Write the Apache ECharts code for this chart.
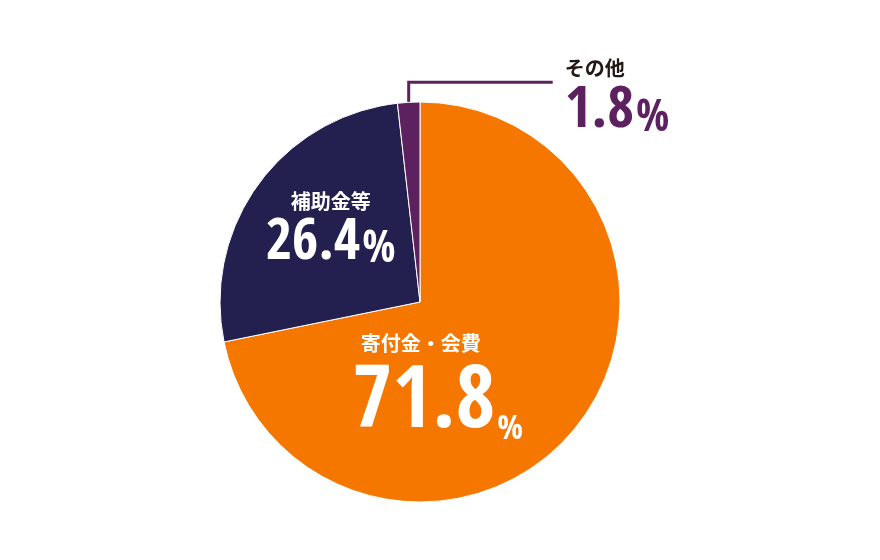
<!DOCTYPE html>
<html>
<head>
<meta charset="utf-8">
<script src="https://cdn.jsdelivr.net/npm/echarts@6/dist/echarts.min.js"></script>
<style>
html, body { margin: 0; padding: 0; background: #fff; }
#chart { width: 880px; height: 560px; }
</style>
</head>
<body>
<div id="chart"></div>
<script>
var categories = ['寄付金・会費', '補助金等', 'その他'];
var shares = [71.8, 26.4, 1.8];
var sliceColors = ['#f57700', '#231f4e', '#5e2160'];

var NUM_FONT = "'Open Sans Condensed', 'Roboto Condensed', sans-serif";
var JP_FONT = "'Noto Sans CJK JP', sans-serif";

function richFor(nameColor, valColor, valSize, pctSize, namePadRight, nameLineHeight) {
    return {
        name: { fontFamily: JP_FONT, fontWeight: 'bold', fontSize: 20, color: nameColor, lineHeight: nameLineHeight, padding: [0, namePadRight, 0, 0] },
        val: { fontFamily: NUM_FONT, fontWeight: 'bold', fontSize: valSize, color: valColor, lineHeight: valSize, verticalAlign: 'bottom' },
        pct: { fontFamily: NUM_FONT, fontWeight: 'bold', fontSize: pctSize, color: valColor, lineHeight: pctSize, verticalAlign: 'bottom', padding: [0, 0, 0, 2] }
    };
}

var labelStyles = [
    { position: 'inside', rich: richFor('#fff', '#fff', 86, 34, 34, 36) },
    { position: 'inside', rich: richFor('#fff', '#fff', 57, 44, 0, 30) },
    { position: 'outside', align: 'left', rich: richFor('#231815', sliceColors[2], 58, 44, 0, 30) }
];

var labelShift = [
    { dx: -62, dy: 19 },
    { dx: -6, dy: -12 }
];

var data = categories.map(function (name, i) {
    return {
        name: name,
        value: shares[i],
        itemStyle: { color: sliceColors[i] },
        label: labelStyles[i],
        labelLine: {
            show: i === 2,
            lineStyle: { color: sliceColors[2], width: 3 }
        }
    };
});

var chart = echarts.init(document.getElementById('chart'));
chart.setOption({
    animation: false,
    series: [{
        type: 'pie',
        center: [420, 302],
        radius: 200,
        startAngle: 90,
        clockwise: true,
        avoidLabelOverlap: false,
        itemStyle: { borderColor: '#fff', borderWidth: 1 },
        label: {
            formatter: function (p) {
                return '{name|' + p.name + '}\n{val|' + p.value + '}{pct|%}';
            }
        },
        labelLine: { length: 20, length2: 140, smooth: false },
        labelLayout: function (params) {
            if (params.dataIndex < 2) {
                return labelShift[params.dataIndex];
            }
            // その他: line goes up from the slice, then right to the label
            var p0 = params.labelLinePoints[0];
            var elbow = [p0[0], p0[1] - 20];
            var end = [p0[0] + 144, p0[1] - 20];
            return {
                x: end[0] + 12,
                y: end[1] + 15,
                align: 'left',
                verticalAlign: 'middle',
                labelLinePoints: [p0, elbow, end]
            };
        },
        emphasis: { disabled: true },
        data: data
    }]
});
</script>
</body>
</html>
